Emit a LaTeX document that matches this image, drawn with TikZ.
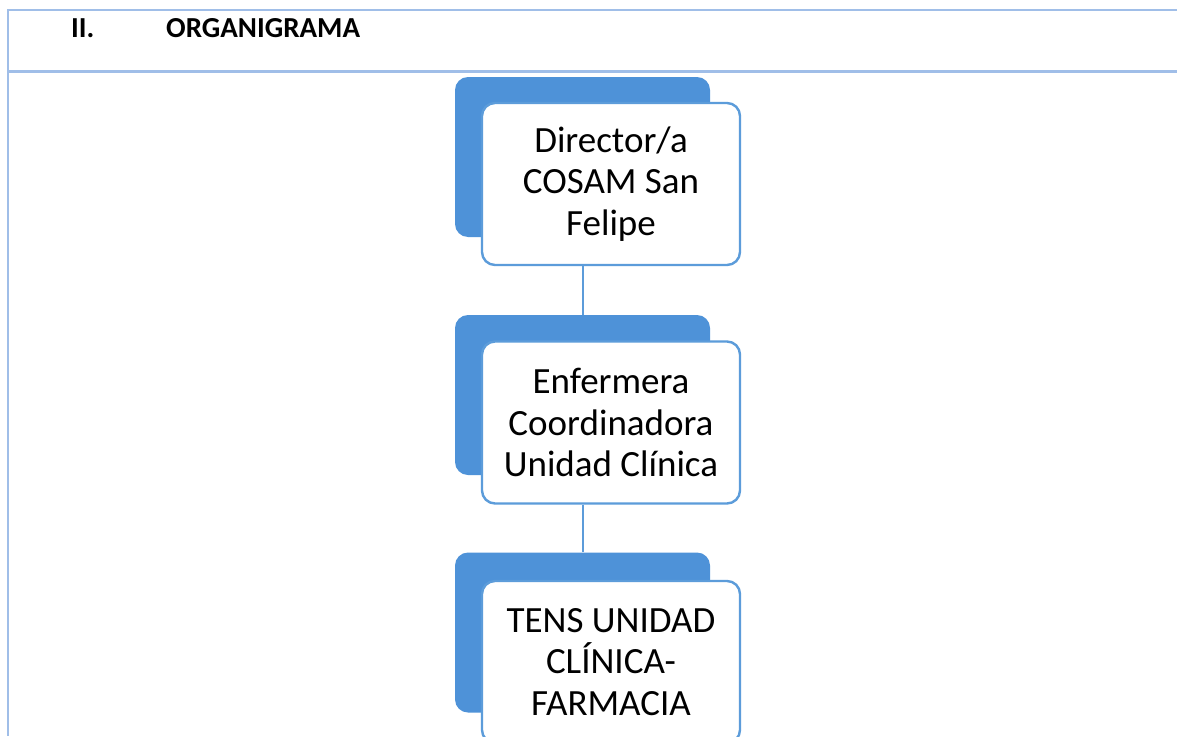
\documentclass[tikz,border=0pt]{standalone}
\usepackage{fontspec}
\setmainfont{Carlito}
\definecolor{backblue}{RGB}{78,146,216}
\definecolor{edgeblue}{RGB}{92,156,218}
\definecolor{tableblue}{RGB}{160,190,232}
\newcommand{\headfont}{\bfseries\fontsize{29}{34}\selectfont}
\begin{document}
\begin{tikzpicture}[x=1pt,y=-1pt,
  backbox/.style={draw=none,fill=backblue,rounded corners=13pt,minimum width=255pt,minimum height=160pt,inner sep=0pt},
  frontbox/.style={draw=edgeblue,line width=2.4pt,fill=white,rounded corners=13pt,minimum width=258pt,minimum height=162pt,inner sep=0pt,align=center,font=\fontsize{37}{41.5}\selectfont},
  link/.style={draw=edgeblue,line width=2pt},
  rule/.style={draw=tableblue,line width=1.2pt},
  headtext/.style={anchor=base west,inner sep=0pt}]
\useasboundingbox (0,0) rectangle (1177,736);
\clip (0,0) rectangle (1177,736);
\fill[white] (0,0) rectangle (1177,736);
% table frame
\coordinate (tl) at (8,10);
\coordinate (tr) at (1177,10);
\coordinate (bl) at (8,736);
\coordinate (sl) at (8,71.5);
\coordinate (sr) at (1177,71.5);
\draw[rule] (tr) -- (tl) -- (bl);
\draw[rule,line width=3pt] (sl) -- (sr);
\node[headtext] (num) at (71,37) {\headfont II.};
\node[headtext] (title) at (166,37) {\headfont ORGANIGRAMA};
% boxes
\node[backbox] (b1) at (582.5,157) {};
\node[frontbox] (f1) at (611,184) {Director/a\\COSAM San\\Felipe};
\node[backbox] (b2) at (582.5,395) {};
\node[frontbox] (f2) at (611,422.5) {Enfermera\\Coordinadora\\Unidad Clínica};
\node[backbox] (b3) at (582.5,632.5) {};
\node[frontbox] (f3) at (611,662) {TENS UNIDAD\\CLÍNICA-\\FARMACIA};
% connectors
\draw[link] (f1.south -| b1.north) -- (b2.north);
\draw[link] (f2.south -| b2.north) -- (b3.north);
\end{tikzpicture}
\end{document}
